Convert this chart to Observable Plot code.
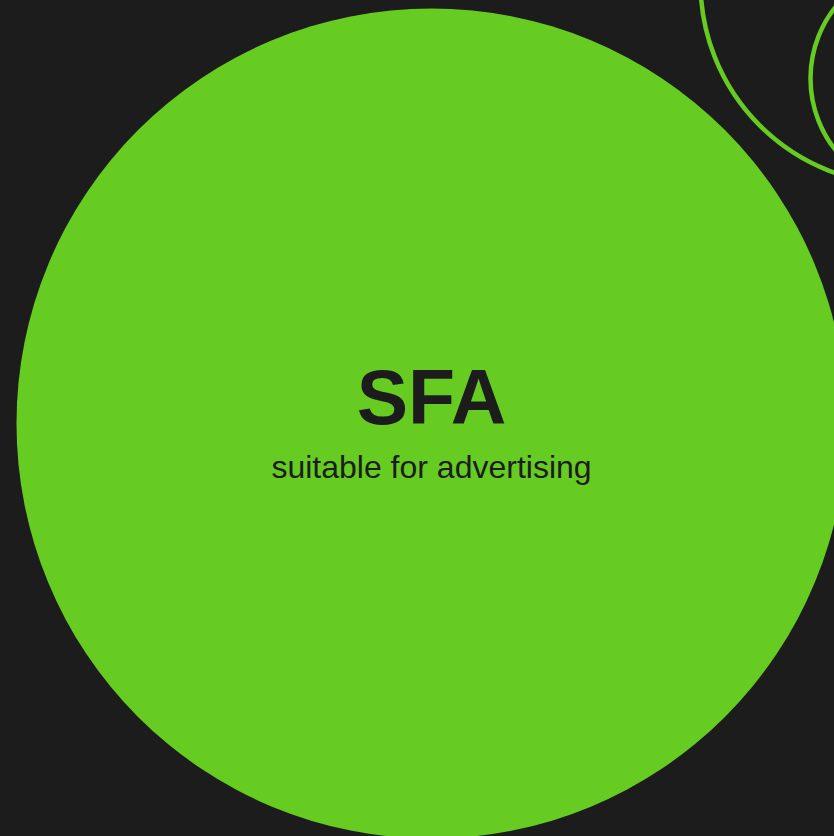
<!DOCTYPE html>
<html>
<head>
<meta charset="utf-8">
<script src="https://cdn.jsdelivr.net/npm/d3@7"></script>
<script src="https://cdn.jsdelivr.net/npm/@observablehq/plot@0.6"></script>
<style>
  html, body { margin: 0; padding: 0; background: #1c1c1c; overflow: hidden; }
  #chart svg { display: block; }
</style>
</head>
<body>
<div id="chart"></div>
<script>
// Bubble data (visible portion of a packed bubble chart)
const categories = ["SFA", "outer ring", "inner ring"];
const subtitles = ["suitable for advertising", "", ""];
const bubbleX = [431, 902, 925];
const bubbleY = [423, -18, 78];
const bubbleR = [415, 202, 115];
const bubbleFilled = [true, false, false];

const GREEN = "#66cc22";
const DARK = "#1c1c1c";

const bubbles = categories.map((c, i) => ({
  name: c, sub: subtitles[i], x: bubbleX[i], y: bubbleY[i], r: bubbleR[i], filled: bubbleFilled[i]
}));
const filled = bubbles.filter(d => d.filled);
const rings = bubbles.filter(d => !d.filled);

const chart = Plot.plot({
  width: 834,
  height: 836,
  margin: 0,
  x: {domain: [0, 834], axis: null},
  y: {domain: [0, 836], axis: null, reverse: true},
  r: {type: "identity"},
  style: {background: DARK, fontFamily: "'Liberation Sans', Arial, Helvetica, sans-serif"},
  marks: [
    Plot.dot(filled, {x: "x", y: "y", r: "r", fill: GREEN, stroke: "none"}),
    Plot.dot(rings, {x: "x", y: "y", r: "r", fill: "none", stroke: GREEN, strokeWidth: 4.5}),
    Plot.text(filled, {x: "x", y: "y", text: "name", fill: DARK, fontSize: 77, fontWeight: "bold", dy: -24, style: "letter-spacing:-1.5px"}),
    Plot.text(filled, {x: "x", y: "y", text: "sub", fill: DARK, fontSize: 32, dy: 44})
  ]
});
document.getElementById("chart").appendChild(chart);
</script>
</body>
</html>
